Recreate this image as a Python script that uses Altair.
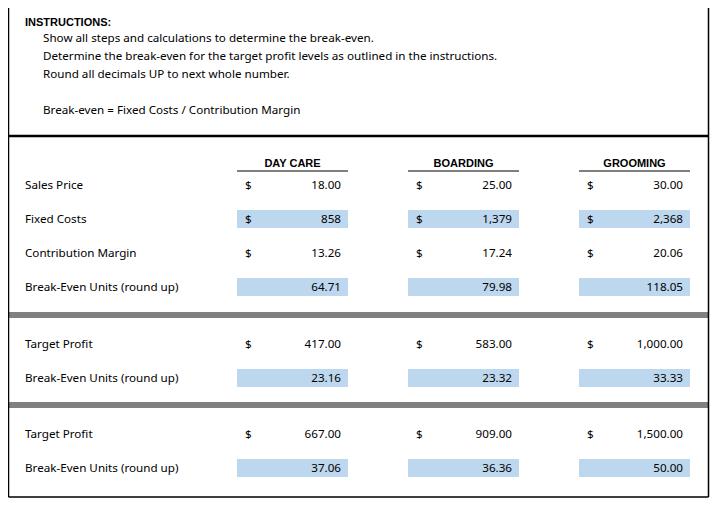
import altair as alt
import pandas as pd

# ---------------- data ----------------
categories = ["DAY CARE", "BOARDING", "GROOMING"]
row_labels = ["Sales Price", "Fixed Costs", "Contribution Margin", "Break-Even Units (round up)",
              "Target Profit", "Break-Even Units (round up)",
              "Target Profit", "Break-Even Units (round up)"]
sales_price = [18.00, 25.00, 30.00]
fixed_costs = [858, 1379, 2368]
contribution_margin = [13.26, 17.24, 20.06]
break_even_units = [64.71, 79.98, 118.05]
target_profit_1 = [417.00, 583.00, 1000.00]
break_even_units_1 = [23.16, 23.32, 33.33]
target_profit_2 = [667.00, 909.00, 1500.00]
break_even_units_2 = [37.06, 36.36, 50.00]
instructions_title = "INSTRUCTIONS:"
instructions = ["Show all steps and calculations to determine the break-even.",
                "Determine the break-even for the target profit levels as outlined in the instructions.",
                "Round all decimals UP to next whole number.",
                "Break-even = Fixed Costs / Contribution Margin"]

# ---------------- layout (sheet grid, in px) ----------------
W, H = 709, 509
FONT = "Noto Sans"
FS = 11.65
BFONT = "Liberation Sans"
BFS = 11
BLUE = "#BDD7EE"
col_left = [229, 400, 571]
col_right = [340, 511, 682]
row_y = [177, 211, 245, 279, 336, 370, 426, 460]
instr_y = [30, 48, 66, 102]

rows_values = [
    (sales_price, True, "{:,.2f}", False),
    (fixed_costs, True, "{:,.0f}", True),
    (contribution_margin, True, "{:,.2f}", False),
    (break_even_units, False, "{:,.2f}", True),
    (target_profit_1, True, "{:,.2f}", False),
    (break_even_units_1, False, "{:,.2f}", True),
    (target_profit_2, True, "{:,.2f}", False),
    (break_even_units_2, False, "{:,.2f}", True),
]

cells, dollars, boxes = [], [], []
for r, (vals, has_dollar, fmt, shaded) in enumerate(rows_values):
    for c, v in enumerate(vals):
        cells.append({"x": col_right[c] - 7, "y": row_y[r], "t": fmt.format(v)})
        if has_dollar:
            dollars.append({"x": col_left[c] + 8, "y": row_y[r], "t": "$"})
        if shaded:
            boxes.append({"x": col_left[c], "x2": col_right[c], "y": row_y[r] - 9, "y2": row_y[r] + 9})

labels = pd.DataFrame({"x": 17, "y": row_y, "t": row_labels})
heads = pd.DataFrame({"x": [(a + b) / 2 for a, b in zip(col_left, col_right)], "y": 155, "t": categories})
ulines = pd.DataFrame({"x": col_left, "x2": col_right, "y": 163})
instr = pd.DataFrame({"x": 35, "y": instr_y, "t": instructions})
title = pd.DataFrame({"x": [17], "y": [14], "t": [instructions_title]})

xs = alt.Scale(domain=[0, W])
ys = alt.Scale(domain=[0, H], reverse=True)
X = lambda f="x": alt.X(f, type="quantitative", scale=xs, axis=None)
Y = lambda f="y": alt.Y(f, type="quantitative", scale=ys, axis=None)

frame_v = pd.DataFrame({"x": [0.5, 700.5], "y": [0, 0], "y2": [489, 489]})
frame_h = pd.DataFrame({"x": [0.5], "x2": [700.5], "y": [489]})
thick = pd.DataFrame({"x": [0.5], "x2": [700.5], "y": [128]})
gray = pd.DataFrame({"x": [0.5, 0.5], "x2": [700.5, 700.5], "y": [304, 394], "y2": [310, 400]})

reg = dict(baseline="middle", font=FONT, fontSize=FS, color="black", dy=1)
bold = dict(baseline="middle", font=BFONT, fontSize=BFS, fontWeight="bold", color="black", dy=1)

layers = [
    alt.Chart(pd.DataFrame(boxes)).mark_rect(color=BLUE).encode(x=X(), x2="x2", y=Y(), y2="y2"),
    alt.Chart(gray).mark_rect(color="#808080").encode(x=X(), x2="x2", y=Y(), y2="y2"),
    alt.Chart(frame_v).mark_rule(color="black", strokeWidth=1.5).encode(x=X(), y=Y(), y2="y2"),
    alt.Chart(frame_h).mark_rule(color="black", strokeWidth=1.5).encode(x=X(), x2="x2", y=Y()),
    alt.Chart(thick).mark_rule(color="black", strokeWidth=2.5).encode(x=X(), x2="x2", y=Y()),
    alt.Chart(ulines).mark_rule(color="black", strokeWidth=1).encode(x=X(), x2="x2", y=Y()),
    alt.Chart(title).mark_text(align="left", **bold).encode(x=X(), y=Y(), text="t:N"),
    alt.Chart(instr).mark_text(align="left", **reg).encode(x=X(), y=Y(), text="t:N"),
    alt.Chart(heads).mark_text(align="center", **bold).encode(x=X(), y=Y(), text="t:N"),
    alt.Chart(labels).mark_text(align="left", **reg).encode(x=X(), y=Y(), text="t:N"),
    alt.Chart(pd.DataFrame(dollars)).mark_text(align="left", **reg).encode(x=X(), y=Y(), text="t:N"),
    alt.Chart(pd.DataFrame(cells)).mark_text(align="right", **reg).encode(x=X(), y=Y(), text="t:N"),
]

chart = alt.layer(*layers).properties(
    width=W, height=H, padding=0, autosize=alt.AutoSizeParams(type="none")
).configure_view(stroke=None)

chart.save("out.html", embed_options={"renderer": "svg", "actions": False})
